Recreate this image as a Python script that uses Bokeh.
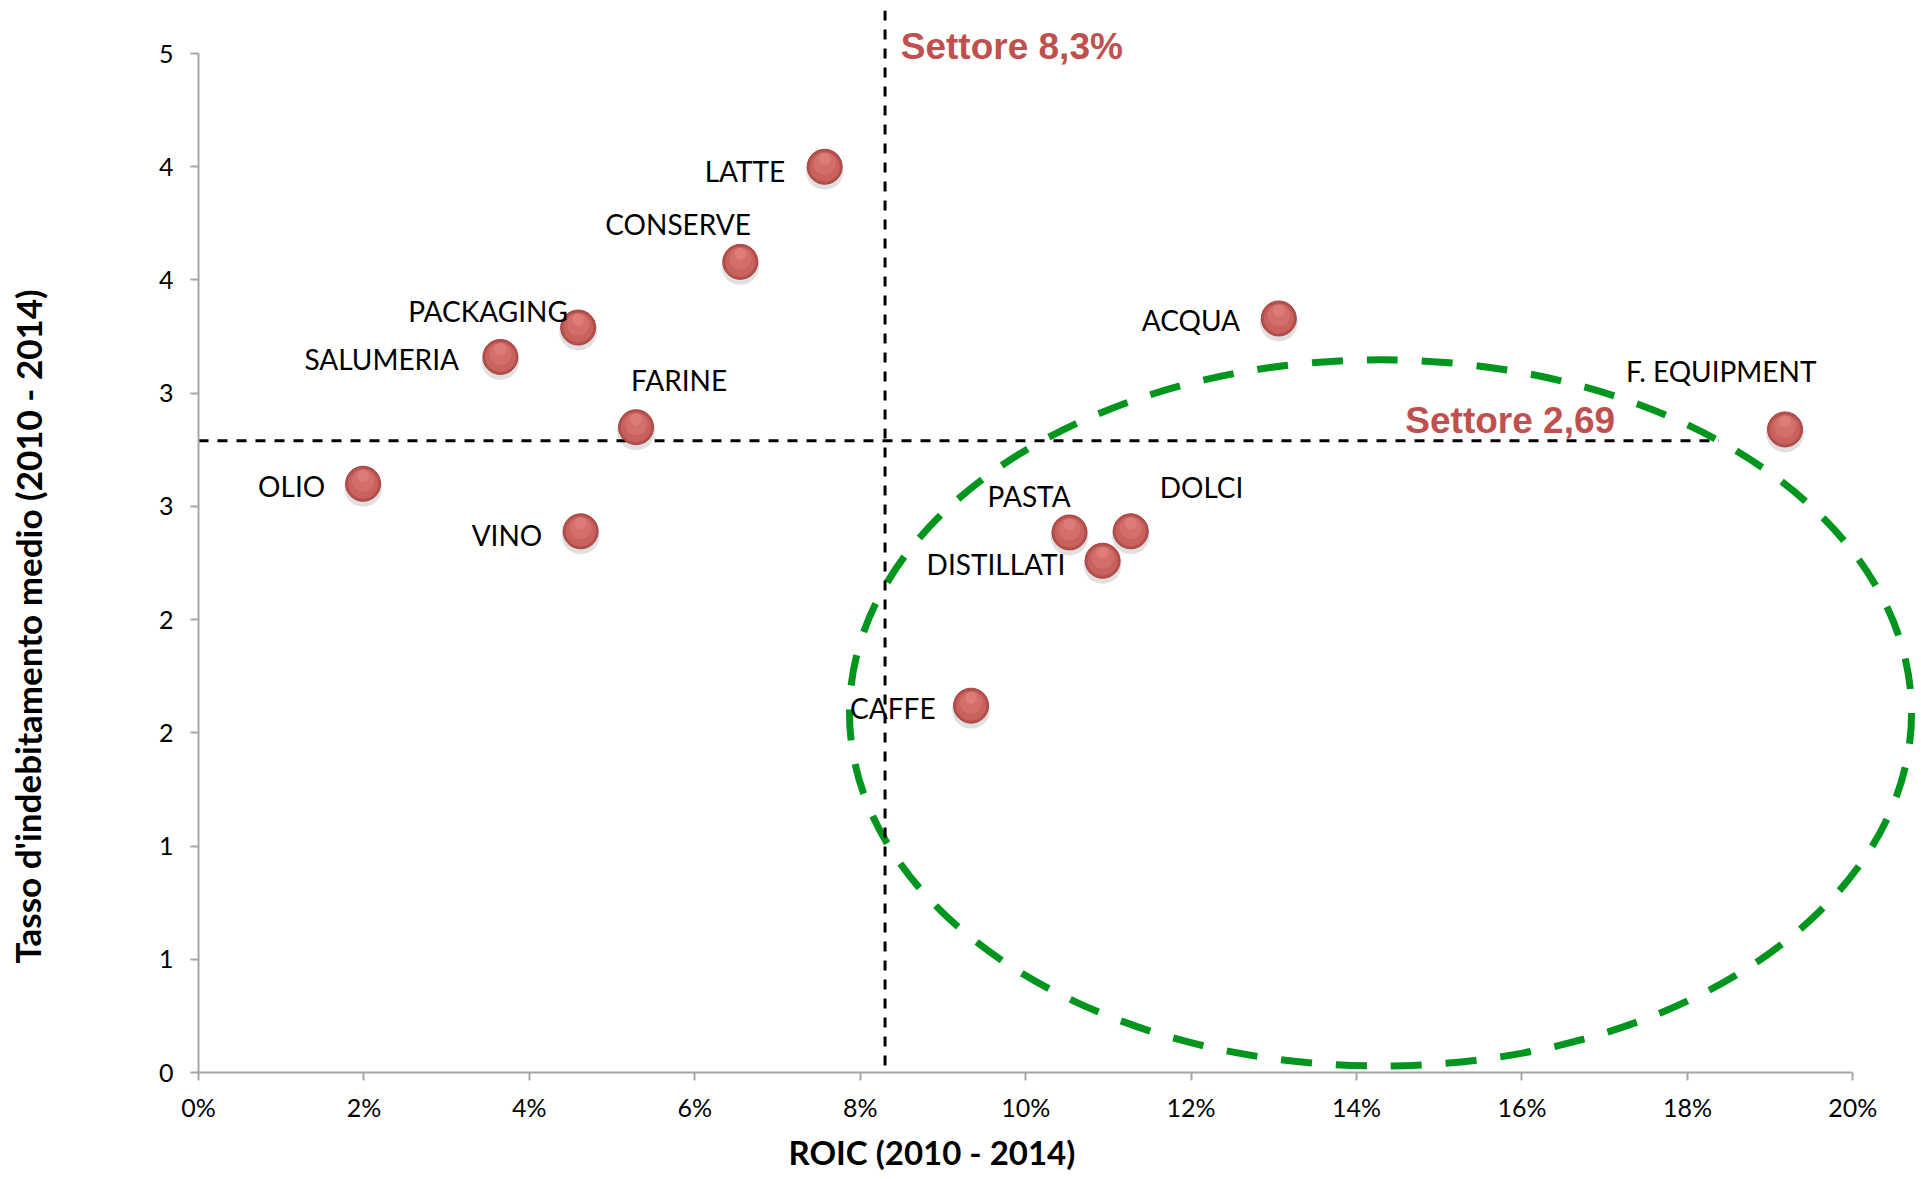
from bokeh.plotting import figure
from bokeh.layouts import row
from bokeh.models import ColumnDataSource, Span, Label, FixedTicker, PrintfTickFormatter, Range1d, Title
from bokeh.core.properties import value
from bokeh.embed import file_html
from bokeh.resources import INLINE

# ---- data ----
settori = ["OLIO", "VINO", "SALUMERIA", "PACKAGING", "FARINE", "CONSERVE", "LATTE",
           "ACQUA", "F. EQUIPMENT", "PASTA", "DOLCI", "DISTILLATI", "CAFFE"]
roic = [1.99, 4.62, 3.65, 4.59, 5.29, 6.55, 7.57, 13.06, 19.18, 10.53, 11.27, 10.93, 9.34]
indebitamento = [2.60, 2.39, 3.16, 3.29, 2.85, 3.58, 4.00, 3.33, 2.84, 2.385, 2.39, 2.26, 1.62]

roic_settore = 8.3
indeb_settore = 2.79
label_roic = "Settore 8,3%"
label_indeb = "Settore 2,69"

x_ticks = [0, 2, 4, 6, 8, 10, 12, 14, 16, 18, 20]
y_ticks = [0, 0.5, 1.0, 1.5, 2.0, 2.5, 3.0, 3.5, 4.0, 4.5]
y_tick_labels = ["0", "1", "1", "2", "2", "3", "3", "4", "4", "5"]

x_title = "ROIC (2010 - 2014)"
y_title = "Tasso d'indebitamento medio (2010 - 2014)"

# label offsets in screen pixels (layout only)
label_dx = [-105, -109, -196, -170, -5, -135, -120, -137, -159, -82, 29, -176, -121]
label_dy = [2, 4, 2, -17, -47, -38, 4, 2, -58, -36, -44, 3, 2]

# highlighted ellipse (data units)
ell_cx, ell_cy, ell_w, ell_h = 14.29, 1.588, 12.84, 3.12

RED = "#c0504d"
GREEN = "#00961e"
AXIS = "#a6a6a6"
TITLE_W = 60

y_range = Range1d(0, 4.69)

# ---- main chart ----
fig = figure(width=1921 - TITLE_W, height=1179, output_backend="svg", toolbar_location=None,
             x_range=Range1d(0, 20.83), y_range=y_range,
             min_border_left=198 - TITLE_W, min_border_right=0, min_border_top=10,
             min_border_bottom=107,
             background_fill_color="white", border_fill_color="white")
fig.outline_line_color = None
fig.xgrid.visible = False
fig.ygrid.visible = False

for ax in (fig.xaxis, fig.yaxis):
    ax.axis_line_color = AXIS
    ax.axis_line_width = 2
    ax.major_tick_line_color = AXIS
    ax.major_tick_line_width = 2
    ax.major_tick_in = 0
    ax.major_tick_out = 8
    ax.minor_tick_line_color = None
    ax.major_label_text_font = "Lato"
    ax.major_label_text_font_size = "25px"
    ax.major_label_text_color = "black"

fig.xaxis.bounds = (0, 20)
fig.xaxis.ticker = FixedTicker(ticks=x_ticks)
fig.xaxis.formatter = PrintfTickFormatter(format="%d%%")
fig.xaxis.major_label_standoff = 11

fig.yaxis.bounds = (0, 4.5)
fig.yaxis.ticker = FixedTicker(ticks=y_ticks)
fig.yaxis.major_label_overrides = {t: l for t, l in zip(y_ticks, y_tick_labels)}
fig.yaxis.major_label_standoff = 17

# reference lines
fig.add_layout(Span(location=roic_settore, dimension="height", line_color="black",
                    line_width=3, line_dash="10 9"))
fig.segment(x0=[0], y0=[indeb_settore], x1=[18.38], y1=[indeb_settore],
            line_color="black", line_width=3, line_dash="10 9")

# ellipse
fig.ellipse(x=[ell_cx], y=[ell_cy], width=[ell_w], height=[ell_h], fill_color=None,
            line_color=GREEN, line_width=7, line_dash="31 24")

# spheres
px_y = 1.0 / 226.44
shadow_y = [v - 4 * px_y for v in indebitamento]
fig.scatter(roic, shadow_y, size=38, fill_color="black", fill_alpha=0.12, line_color=None)
fig.scatter(roic, indebitamento, size=35, fill_color="#b64f4c", line_color="#a24542", line_width=1)
fig.scatter(roic, indebitamento, size=30, fill_color="#c9615d", line_color=None)
fig.scatter(roic, [v + 3 * px_y for v in indebitamento], size=22, fill_color="#d6736e",
            fill_alpha=0.8, line_color=None)
fig.scatter(roic, [v + 8 * px_y for v in indebitamento], size=12, fill_color="#e58c87",
            fill_alpha=0.5, line_color=None)

# point labels
src = ColumnDataSource(dict(x=roic, y=indebitamento, text=settori, dx=label_dx, dy=label_dy))
fig.text(x="x", y="y", text="text", x_offset="dx", y_offset="dy", source=src,
         text_font=value("Lato"), text_font_size="28px", text_color="black",
         text_align="left", text_baseline="middle")

# sector labels
fig.add_layout(Label(x=8.49, y=4.53, text=label_roic, text_font="Liberation Sans",
                     text_font_style="bold", text_font_size="37px", text_color=RED,
                     text_baseline="alphabetic", text_align="left"))
fig.add_layout(Label(x=14.59, y=indeb_settore + 20 * px_y, text=label_indeb,
                     text_font="Liberation Sans", text_font_style="bold",
                     text_font_size="37px", text_color=RED,
                     text_baseline="alphabetic", text_align="left"))

# x axis title
fig.add_layout(Title(text=x_title, align="left", offset=590, standoff=11,
                     text_font="Lato", text_font_style="bold", text_font_size="33px",
                     text_color="black"), "below")

# ---- y title strip (frame aligned with the main chart) ----
tfig = figure(width=TITLE_W, height=1179, output_backend="svg", toolbar_location=None,
              x_range=Range1d(0, TITLE_W), y_range=y_range,
              x_axis_location=None, y_axis_location=None, min_border=0,
              background_fill_color="white", border_fill_color="white")
tfig.outline_line_color = None
tfig.xgrid.visible = False
tfig.ygrid.visible = False
tfig.add_layout(Label(x=27, y=1.97, text=y_title, text_font="Lato",
                      text_font_style="bold", text_font_size="35px", text_color="black",
                      angle=1.5707963, text_align="center", text_baseline="middle"))

p = row(tfig, fig, spacing=0)
open("out.html", "w").write(file_html(p, INLINE))
